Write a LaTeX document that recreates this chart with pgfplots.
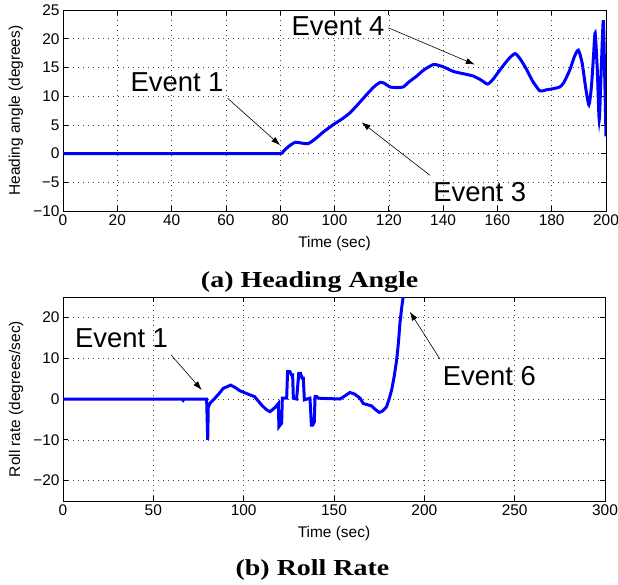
\documentclass[border=0pt]{standalone}
\usepackage{fontspec}
\setmainfont{Liberation Sans}
\newfontfamily\capfont[FakeStretch=1.22]{Liberation Serif}
\usepackage{pgfplots}
\pgfplotsset{compat=1.18}
\usetikzlibrary{arrows.meta}

\pgfplotsset{
  matlab/.style={
    scale only axis,
    anchor=south west,
    axis line style={black, line width=0.9bp},
    tick align=inside,
    tick pos=both,
    major tick length=5bp,
    tick style={black, line width=0.7bp},
    grid=major,
    grid style={black!75, line width=0.6bp, dash pattern=on 0.8bp off 4.2bp},
    tick label style={font=\fontsize{15.5}{18}\selectfont},
    label style={font=\fontsize{15.5}{18}\selectfont},
    /pgf/number format/assume math mode=true,
    clip=true,
  },
}
\tikzset{
  ev/.style={font=\fontsize{27.5}{30}\selectfont, inner sep=0pt},
  evarrow/.style={black, line width=0.6bp, -{Latex[length=9bp, width=6bp]}},
}

\begin{document}
\begin{tikzpicture}
\path[use as bounding box] (0,0) rectangle (618bp,585bp);

% (a) heading angle
\begin{axis}[matlab,
  at={(63bp,374bp)}, width=543bp, height=201bp,
  xmin=0, xmax=200, ymin=-10, ymax=25,
  xtick={0,20,...,200},
  ytick={-10,-5,0,5,10,15,20,25},
  yticklabels={−10,−5,0,5,10,15,20,25},
  xlabel={Time (sec)}, ylabel={Heading angle (degrees)},
  xlabel style={at={(axis description cs:0.5,-0.162)}, anchor=center},
  ylabel style={at={(axis description cs:-0.0866,0.5)}, anchor=center},
]
\addplot[blue, line width=3bp, smooth, tension=0.4] coordinates {
(0,0) (20,0) (40,0) (60,0) (70,0) (80,0) (81,0.3) (83,1.2) (85.5,1.97) (87.5,1.85)
(90.3,1.74) (93,2.6) (96,3.8) (99.6,5.05) (103,6.1) (105.7,7.1) (108.5,8.5)
(111.9,10.3) (114.5,11.6) (116.8,12.4) (118.5,12.2) (120.4,11.6) (123,11.5)
(125.3,11.6) (127.5,12.5) (130.3,13.5) (133,14.6) (136.4,15.5) (138,15.4)
(140.1,15.1) (143.8,14.3) (147.5,13.9) (151.1,13.5) (154,12.8) (156.4,12.1)
(158.5,13.0) (161,14.6) (164,16.4) (166.5,17.4) (168.5,16.4) (170.8,14.6)
(173,12.6) (175.7,10.9) (178,11.1) (180.6,11.3) (183,11.6) (184.5,12.4)
(186.7,14.6) (188.3,16.8) (189.8,18.0) (191.2,15.8) (192.5,11.5) (193.7,8.5)
(194.6,11.5) (195.4,17) (196,21) (196.8,14.5) (197.5,5.9) (198.2,14)
(199,23.2) (199.5,14) (200,3.0)
};
\node[ev] at (axis cs:42,12.4) {Event 1};
\draw[evarrow] (axis cs:60.7,9.6) -- (axis cs:80,1.45);
\node[ev] at (axis cs:101.3,22.1) {Event 4};
\draw[evarrow] (axis cs:119.8,21.9) -- (axis cs:151.7,15.5);
\node[ev] at (axis cs:153.5,-6.7) {Event 3};
\draw[evarrow] (axis cs:135.2,-3.8) -- (axis cs:110,5.45);
\end{axis}

% (b) roll rate
\begin{axis}[matlab,
  at={(63bp,84bp)}, width=542bp, height=204bp,
  xmin=0, xmax=300, ymin=-25, ymax=25,
  xtick={0,50,...,300},
  ytick={-20,-10,0,10,20},
  yticklabels={−20,−10,0,10,20},
  xlabel={Time (sec)}, ylabel={Roll rate (degrees/sec)},
  xlabel style={at={(axis description cs:0.5,-0.157)}, anchor=center},
  ylabel style={at={(axis description cs:-0.0866,0.5)}, anchor=center},
]
\addplot[blue, line width=3bp] coordinates {
(0,0) (20,0) (40,0) (60,0) (66,0) (66.5,-0.3) (67,0) (79.5,0) (80.1,-10) (80.4,-2)
(81.3,-1.1) (84.1,0.2) (86.5,1.4) (88.7,2.6) (92.8,3.4) (95,2.9) (98,2.0)
(103.5,1.0) (106,0.6) (110,-1.5) (112.5,-2.6) (114.6,-3.1) (117.3,-2.1)
(119.2,-1.1) (119.5,-6.8) (120.5,-6.2) (121,-6.0) (121.4,0.2) (123.8,0.2)
(124.3,6.7) (125.6,6.7) (126.4,5.9) (127.1,5.9) (127.5,0.2) (129.3,0)
(130.5,6.3) (131.5,6.3) (132.3,5.1) (133,5.1) (133.6,-0.2) (136.7,0.2)
(137.5,-6.4) (138.2,-6.4) (139.1,-5.6) (139.5,0.6) (140.4,0.6) (141.3,0.2)
(153.3,0) (155.5,0.6) (158.8,1.6) (161.5,1.2) (164.4,0.2) (166.2,-1.1)
(170.8,-1.7) (173,-2.6) (175.1,-3.3) (177,-2.9) (179.1,-1.9) (180.5,0)
(181.9,2.2) (183.3,5.5) (184.7,9.6) (185.7,14) (186.5,18.6) (187.5,22.5)
(188.3,25.1) (189.5,32) (190.5,40)
};
\node[ev] at (axis cs:32.4,14.9) {Event 1};
\draw[evarrow] (axis cs:59.8,10.8) -- (axis cs:76.8,2.2);
\node[ev] at (axis cs:236,5.5) {Event 6};
\draw[evarrow] (axis cs:208.6,9.8) -- (axis cs:192,21.4);
\end{axis}

\node[anchor=base, inner sep=0pt] at (309.7bp,297.7bp)
  {\capfont\bfseries\fontsize{23}{26}\selectfont (a)\ Heading\ Angle};
\node[anchor=base, inner sep=0pt] at (312.5bp,10bp)
  {\capfont\bfseries\fontsize{23}{26}\selectfont (b)\ Roll\ Rate};
\end{tikzpicture}
\end{document}
